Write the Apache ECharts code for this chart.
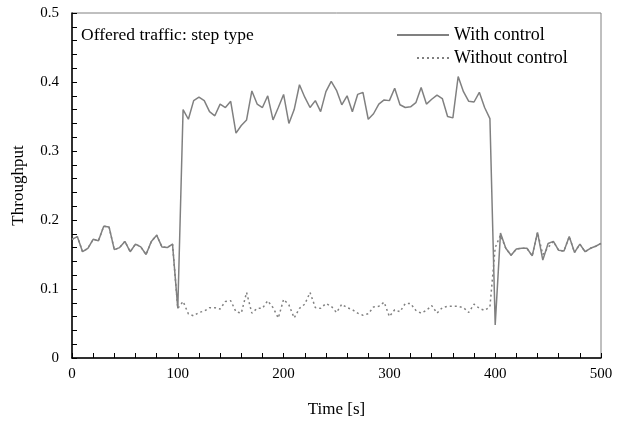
<!DOCTYPE html>
<html>
<head>
<meta charset="utf-8">
<script src="https://cdn.jsdelivr.net/npm/echarts@6/dist/echarts.min.js"></script>
<style>
  html, body { margin: 0; padding: 0; background: #fff; }
  #chart { width: 617px; height: 425px; }
</style>
</head>
<body>
<div id="chart"></div>
<script>
// sample times [s]
var times = [0, 5, 10, 15, 20, 25, 30, 35, 40, 45, 50, 55, 60, 65, 70, 75, 80, 85, 90, 95,
  100, 105, 110, 115, 120, 125, 130, 135, 140, 145, 150, 155, 160, 165, 170, 175, 180, 185, 190, 195,
  200, 205, 210, 215, 220, 225, 230, 235, 240, 245, 250, 255, 260, 265, 270, 275, 280, 285, 290, 295,
  300, 305, 310, 315, 320, 325, 330, 335, 340, 345, 350, 355, 360, 365, 370, 375, 380, 385, 390, 395,
  400, 405, 410, 415, 420, 425, 430, 435, 440, 445, 450, 455, 460, 465, 470, 475, 480, 485, 490, 495, 500];

var withControl = [0.172, 0.176, 0.154, 0.159, 0.172, 0.170, 0.191, 0.190, 0.157, 0.160,
  0.169, 0.154, 0.165, 0.161, 0.150, 0.169, 0.178, 0.161, 0.160, 0.165,
  0.072, 0.360, 0.346, 0.373, 0.378, 0.373, 0.357, 0.351, 0.368, 0.363,
  0.372, 0.326, 0.337, 0.345, 0.387, 0.368, 0.363, 0.380, 0.345, 0.363,
  0.382, 0.340, 0.360, 0.396, 0.378, 0.363, 0.373, 0.357, 0.386, 0.401,
  0.388, 0.367, 0.380, 0.357, 0.382, 0.385, 0.346, 0.354, 0.368, 0.374,
  0.373, 0.391, 0.367, 0.363, 0.364, 0.370, 0.392, 0.368, 0.375, 0.381,
  0.376, 0.350, 0.348, 0.408, 0.386, 0.372, 0.371, 0.385, 0.363, 0.347,
  0.048, 0.181, 0.159, 0.149, 0.158, 0.159, 0.159, 0.148, 0.182, 0.142,
  0.166, 0.169, 0.156, 0.155, 0.176, 0.153, 0.165, 0.154, 0.159, 0.162, 0.166];

var withoutControl = [0.172, 0.176, 0.154, 0.159, 0.172, 0.170, 0.191, 0.190, 0.157, 0.160,
  0.169, 0.154, 0.165, 0.161, 0.150, 0.169, 0.178, 0.161, 0.160, 0.165,
  0.072, 0.082, 0.064, 0.061, 0.066, 0.068, 0.073, 0.073, 0.071, 0.082,
  0.083, 0.067, 0.065, 0.095, 0.065, 0.072, 0.072, 0.083, 0.073, 0.058,
  0.085, 0.077, 0.058, 0.072, 0.078, 0.095, 0.073, 0.072, 0.079, 0.075,
  0.066, 0.078, 0.073, 0.070, 0.065, 0.062, 0.064, 0.074, 0.075, 0.081,
  0.060, 0.070, 0.067, 0.079, 0.079, 0.069, 0.065, 0.069, 0.076, 0.065,
  0.073, 0.075, 0.075, 0.075, 0.073, 0.066, 0.078, 0.072, 0.069, 0.074,
  0.160, 0.178, 0.159, 0.149, 0.158, 0.159, 0.159, 0.148, 0.182, 0.150,
  0.160, 0.169, 0.156, 0.155, 0.176, 0.153, 0.165, 0.154, 0.159, 0.162, 0.166];

var seriesNames = ['With control', 'Without control'];

var font = "'Liberation Serif', 'Times New Roman', serif";

function pairs(vals) {
  return times.map(function (t, i) { return [t, vals[i]]; });
}

var legendText = { fontFamily: font, fontSize: 18, color: '#000' };

var option = {
  animation: false,
  backgroundColor: '#fff',
  textStyle: { fontFamily: font, color: '#000' },
  title: {
    text: 'Offered traffic: step type',
    left: 76,
    top: 21,
    textStyle: { fontFamily: font, fontSize: 17.5, fontWeight: 'normal', color: '#000' }
  },
  legend: [
    {
      data: [seriesNames[0]],
      left: 391, top: 21,
      itemWidth: 52, itemHeight: 10,
      itemStyle: { opacity: 0 },
      textStyle: legendText
    },
    {
      data: [seriesNames[1]],
      left: 411, top: 44,
      itemWidth: 32, itemHeight: 10,
      itemStyle: { opacity: 0 },
      textStyle: legendText
    }
  ],
  grid: {
    left: 72, right: 16, top: 13, bottom: 67,
    show: true, borderColor: '#808080', borderWidth: 1
  },
  xAxis: {
    type: 'value',
    min: 0, max: 500, interval: 100,
    name: 'Time [s]',
    nameLocation: 'middle',
    nameGap: 43,
    nameTextStyle: { fontFamily: font, fontSize: 17, color: '#000' },
    axisLine: { lineStyle: { color: '#000', width: 1.5 } },
    axisTick: { inside: true, length: 5, lineStyle: { color: '#000' } },
    minorTick: { show: true, splitNumber: 5, length: 5, lineStyle: { color: '#000' } },
    axisLabel: { fontFamily: font, fontSize: 15, color: '#000', margin: 9 },
    splitLine: { show: false }
  },
  yAxis: {
    type: 'value',
    min: 0, max: 0.5, interval: 0.1,
    name: 'Throughput',
    nameLocation: 'middle',
    nameGap: 45,
    nameTextStyle: { fontFamily: font, fontSize: 17, color: '#000' },
    axisLine: { show: true, lineStyle: { color: '#000', width: 1.5 } },
    axisTick: { show: true, inside: true, length: 5, lineStyle: { color: '#000' } },
    minorTick: { show: true, splitNumber: 5, length: 5, lineStyle: { color: '#000' } },
    axisLabel: {
      fontFamily: font, fontSize: 15, color: '#000', margin: 13,
      formatter: function (v) { return v === 0 ? '0' : v.toFixed(1); }
    },
    splitLine: { show: false }
  },
  series: [
    {
      name: seriesNames[0],
      type: 'line',
      data: pairs(withControl),
      symbol: 'none',
      color: '#808080',
      lineStyle: { color: '#808080', width: 1.5 }
    },
    {
      name: seriesNames[1],
      type: 'line',
      data: pairs(withoutControl),
      symbol: 'none',
      color: '#808080',
      lineStyle: { color: '#808080', width: 1.5, type: [2, 3] }
    }
  ]
};

var chart = echarts.init(document.getElementById('chart'));
chart.setOption(option);
</script>
</body>
</html>
